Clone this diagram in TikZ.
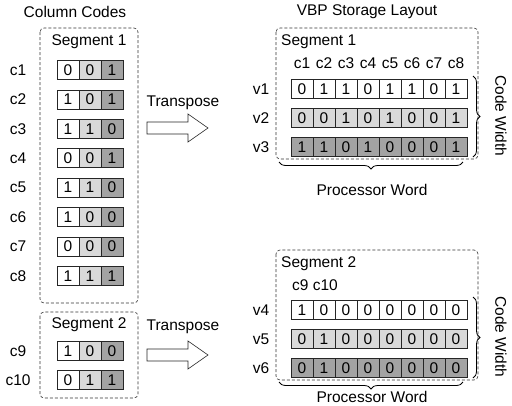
\documentclass[tikz,border=0pt]{standalone}
\usepackage{fontspec}
\setmainfont{Liberation Sans}
\usetikzlibrary{decorations.pathreplacing}
\definecolor{lg}{HTML}{D9D9D9}
\definecolor{dg}{HTML}{A3A3A3}
\begin{document}
\begin{tikzpicture}[x=1pt,y=-1pt, font=\fontsize{15.5}{17}\selectfont,
 cell/.style={draw=black!85, line width=0.6pt, minimum width=22pt, minimum height=19pt, inner sep=0pt},
 rcell/.style={cell, minimum height=18.5pt},
 seg/.style={draw=black!80, line width=0.6pt, dash pattern=on 3pt off 2pt, rounded corners=4pt},
 lbl/.style={inner sep=0pt},
 brc/.style={decorate, decoration={brace, amplitude=7pt}, line width=0.8pt},
 tarrow/.style={draw=black!85, line width=0.6pt, fill=white}
]
\useasboundingbox (0,0) rectangle (512,405);

% ---------- left: column codes ----------
\node[lbl] (cctitle) at (75,12) {Column Codes};
\draw[seg] (40,28) rectangle (138,303);
\node[lbl] (lseg1) at (89,42) {Segment 1};
\draw[seg] (40,312) rectangle (138,398);
\node[lbl] (lseg2) at (89,325) {Segment 2};
\foreach \n/\a/\b/\c/\y in {1/0/0/1/70, 2/1/0/1/99.4, 3/1/1/0/128.8, 4/0/0/1/158.2,
  5/1/1/0/187.6, 6/1/0/0/217, 7/0/0/0/246.4, 8/1/1/1/275.8, 9/1/0/0/351, 10/0/1/1/380} {
  \node[lbl] (lc\n) at (18,\y) {c\n};
  \node[cell, fill=white] (ca\n) at (68,\y) {\a};
  \node[cell, fill=lg] (cb\n) at (90,\y) {\b};
  \node[cell, fill=dg] (cd\n) at (112,\y) {\c};
}

% ---------- transpose arrows ----------
\node[lbl] (tr1) at (183,103) {Transpose};
\draw[tarrow] (147,122) -- (188,122) -- (188,114) -- (208,128) -- (188,142) -- (188,134) -- (147,134) -- cycle;
\node[lbl] (tr2) at (183,327) {Transpose};
\draw[tarrow] (147,349) -- (188,349) -- (188,341) -- (208,355) -- (188,369) -- (188,361) -- (147,361) -- cycle;

% ---------- right: VBP storage layout ----------
\node[lbl] (vbptitle) at (367,12) {VBP Storage Layout};
\draw[seg] (276,28) rectangle (478,159);
\node[lbl, anchor=west] (rseg1) at (281,42) {Segment 1};
\foreach \j in {1,...,8} \node[lbl] (h\j) at ({280+22*\j},63) {c\j};
\foreach \r/\col/\y/\bits in {1/white/89/{0,1,1,0,1,1,0,1}, 2/lg/118/{0,0,1,0,1,0,0,1}, 3/dg/147/{1,1,0,1,0,0,0,1},
  4/white/310/{1,0,0,0,0,0,0,0}, 5/lg/339/{0,1,0,0,0,0,0,0}, 6/dg/368/{0,1,0,0,0,0,0,0}} {
  \node[lbl] (lv\r) at (261,\y) {v\r};
  \foreach \b [count=\j] in \bits \node[rcell, fill=\col] (v\r-\j) at ({280+22*\j},\y) {\b};
}
\draw[brc] (473,76) -- (473,157);
\node[lbl, rotate=-90] (cw1) at (501,116) {Code Width};
\draw[brc] (463,162) -- (279,162);
\node[lbl] (pw1) at (372,190) {Processor Word};

\draw[seg] (276,250) rectangle (478,380);
\node[lbl, anchor=west] (rseg2) at (281,264) {Segment 2};
\node[lbl, anchor=west] (h9) at (292,285) {c9 c10};
\draw[brc] (473,297) -- (473,378);
\node[lbl, rotate=-90] (cw2) at (501,337) {Code Width};
\draw[brc] (463,382) -- (279,382);
\node[lbl] (pw2) at (372,397) {Processor Word};
\end{tikzpicture}
\end{document}
